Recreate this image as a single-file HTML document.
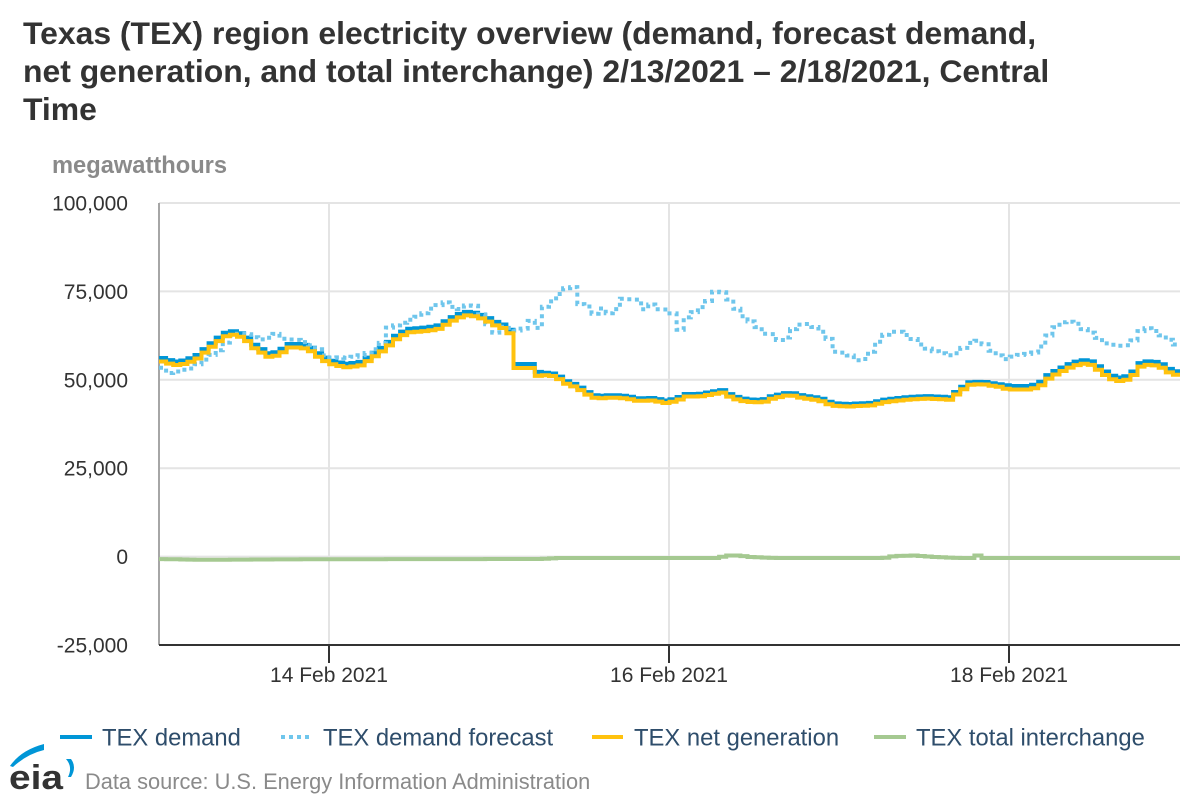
<!DOCTYPE html>
<html>
<head>
<meta charset="utf-8">
<style>
  html,body{margin:0;padding:0;background:#fff;}
  body{width:1200px;height:800px;overflow:hidden;}
  svg{display:block;}
  text{font-family:"Liberation Sans",Arial,sans-serif;}
</style>
</head>
<body>
<svg id="chart" width="1200" height="800" viewBox="0 0 1200 800" xmlns="http://www.w3.org/2000/svg">
  <rect x="0" y="0" width="1200" height="800" fill="#ffffff"/>
  <!-- Title -->
  <text x="23" y="44" font-size="31.9" font-weight="bold" fill="#333333">Texas (TEX) region electricity overview (demand, forecast demand,</text>
  <text x="23" y="82" font-size="31.9" font-weight="bold" fill="#333333">net generation, and total interchange) 2/13/2021 – 2/18/2021, Central</text>
  <text x="23" y="120" font-size="31.9" font-weight="bold" fill="#333333">Time</text>

  <!-- Axis title -->
  <text x="52" y="173" font-size="23.7" font-weight="bold" fill="#8a8a8a">megawatthours</text>

  <!-- Grid -->
  <g stroke="#e4e4e4" stroke-width="2">
    <line x1="159" y1="203" x2="1180" y2="203"/>
    <line x1="159" y1="291.4" x2="1180" y2="291.4"/>
    <line x1="159" y1="379.8" x2="1180" y2="379.8"/>
    <line x1="159" y1="468.2" x2="1180" y2="468.2"/>
    <line x1="159" y1="556.6" x2="1180" y2="556.6"/>
    <line x1="329" y1="203" x2="329" y2="645"/>
    <line x1="669" y1="203" x2="669" y2="645"/>
    <line x1="1009" y1="203" x2="1009" y2="645"/>
  </g>

  <!-- Y axis line -->
  <line x1="159" y1="203" x2="159" y2="645" stroke="#a6a6a6" stroke-width="2"/>

  <!-- Y labels -->
  <g font-size="21" fill="#333333" text-anchor="end">
    <text x="128" y="210.5">100,000</text>
    <text x="128" y="298.9">75,000</text>
    <text x="128" y="387.3">50,000</text>
    <text x="128" y="475.7">25,000</text>
    <text x="128" y="564.1">0</text>
    <text x="128" y="652.5">-25,000</text>
  </g>

  <!-- Series -->
  <path id="sDemand" fill="none" stroke="#0096d7" stroke-width="4"/>
  <path id="sForecast" fill="none" stroke="#6fc6ec" stroke-width="4" stroke-dasharray="4,4"/>
  <path id="sGen" fill="none" stroke="#ffc20e" stroke-width="4"/>
  <path id="sInter" fill="none" stroke="#a5c991" stroke-width="4"/>

  <!-- X axis -->
  <line x1="159" y1="645" x2="1180" y2="645" stroke="#333333" stroke-width="2"/>
  <g stroke="#333333" stroke-width="2">
    <line x1="329" y1="645" x2="329" y2="663"/>
    <line x1="669" y1="645" x2="669" y2="663"/>
    <line x1="1009" y1="645" x2="1009" y2="663"/>
  </g>
  <g font-size="21" fill="#333333" text-anchor="middle">
    <text x="329" y="682">14 Feb 2021</text>
    <text x="669" y="682">16 Feb 2021</text>
    <text x="1009" y="682">18 Feb 2021</text>
  </g>

  <!-- Legend -->
  <g font-size="23.8" fill="#2e4d6b">
    <line x1="60" y1="737" x2="92" y2="737" stroke="#0096d7" stroke-width="4"/>
    <text x="102" y="745.5">TEX demand</text>
    <line x1="281" y1="737" x2="313" y2="737" stroke="#6fc6ec" stroke-width="4" stroke-dasharray="4,4"/>
    <text x="323" y="745.5">TEX demand forecast</text>
    <line x1="592" y1="737" x2="623" y2="737" stroke="#ffc20e" stroke-width="4"/>
    <text x="634" y="745.5">TEX net generation</text>
    <line x1="874" y1="737" x2="906" y2="737" stroke="#a5c991" stroke-width="4"/>
    <text x="916" y="745.5">TEX total interchange</text>
  </g>

  <!-- EIA logo -->
  <path d="M10 766 Q21 750 44 744 L44 750 Q27 754 13 767 Z" fill="#0096d7"/>
  <path d="M66 759 Q73 767 68 777 L71 777 Q77 767 71 759 Z" fill="#0096d7"/>
  <text x="9" y="789" font-size="34" font-weight="bold" fill="#333333" textLength="54" lengthAdjust="spacingAndGlyphs">eia</text>
  <text x="85" y="789" font-size="21.8" fill="#8a8a8a">Data source: U.S. Energy Information Administration</text>
</svg>

<script>
(function(){
  var demand=[[159,357],[175,361.7],[187,360],[198,355],[210,345],[225,333],[235,331],[245,335],[255,345],[270,354],[280,351],[290,344],[302,344],[312,348],[322,356],[335,361.7],[348,364],[362,361.7],[375,353],[385,346],[395,336.7],[408,329],[422,328],[438,326],[452,317.7],[465,311.7],[475,312.7],[485,316],[495,321.7],[500,323],[507,326.7],[512,331.7],[513,364],[535,364],[537,371.7],[557,374],[563,380],[577,385],[587,391.7],[597,396],[613,395],[627,396],[637,398.3],[653,398],[667,400.7],[677,398.3],[687,394],[700,394],[713,391.7],[723,390],[733,396],[747,399.3],[763,400],[773,396],[790,392.3],[803,395.7],[820,398],[833,403.3],[850,404],[860,403.3],[870,403.3],[887,399.3],[907,397.3],[927,396],[940,396.7],[950,397.3],[960,389.3],[970,382.3],[983,381.7],[997,384],[1013,386],[1030,386],[1040,383.3],[1050,374],[1060,369],[1073,362.7],[1083,360],[1093,361.7],[1103,370],[1113,376],[1123,378.3],[1133,372.7],[1140,363.3],[1150,361],[1160,362.7],[1170,369.3],[1180,372.3]];
  var forecast=[[159,365],[170,373.3],[182,370],[192,368.3],[202,361.7],[215,353],[223,348],[230,336.7],[242,333.3],[252,335],[258,340],[268,338.3],[277,333.3],[280,338.3],[288,339.3],[298,340],[308,343.3],[315,347.3],[322,351],[328,358.3],[338,357.3],[348,358],[362,355],[372,351.7],[382,344],[387,328.3],[398,325],[412,319.3],[422,315],[435,306.7],[448,301.7],[457,310.7],[465,306.7],[472,303.3],[478,309.3],[488,323.3],[495,333.3],[502,326.7],[513,328.3],[518,331],[525,328.3],[532,320],[538,329.3],[542,312.3],[547,304.3],[552,301.7],[557,298.3],[563,288.3],[572,288.3],[577,285],[578,305],[585,302.7],[592,311.7],[597,315],[600,310],[607,305],[610,316],[615,311.7],[620,301.7],[625,297.3],[630,299.3],[637,298.3],[642,309.3],[647,309.3],[652,304.3],[660,310],[668,309.3],[673,313.3],[677,321],[680,330],[685,319.3],[690,315],[700,308.3],[708,301.7],[715,291.7],[722,291.7],[727,295.7],[733,304],[740,312.7],[748,320],[755,323.3],[762,331.7],[767,335],[773,334],[778,339.3],[783,341.7],[790,333.3],[797,325],[807,324],[812,324],[817,329.3],[822,331.7],[827,335],[830,340.7],[833,351.7],[840,352],[847,353.3],[853,357.3],[858,360.7],[867,358.3],[875,346.7],[882,337.3],[890,331.7],[900,331.7],[907,335],[912,336.7],[918,343.3],[925,346],[930,350],[937,351.7],[943,353.3],[947,356.7],[953,353.3],[960,353.3],[967,343.3],[973,342.7],[980,340],[987,346],[995,353.3],[1003,357.3],[1008,360],[1013,356.7],[1020,355],[1027,354],[1033,353.3],[1040,350],[1045,340],[1052,331.7],[1060,322.7],[1067,321.7],[1073,321.7],[1080,325],[1087,331.7],[1095,333.3],[1102,342.7],[1110,344.3],[1120,345.7],[1130,345],[1137,336.7],[1143,328.3],[1152,328.3],[1158,333.3],[1165,336.7],[1172,341.7],[1180,346.7]];
  var inter=[[159,559],[200,559.8],[330,559.2],[540,559],[560,558],[720,558],[725,555.5],[740,555.5],[750,557],[775,558],[885,558],[895,556],[915,555.5],[935,557],[960,558],[973,558],[978,555.5],[985,558],[1180,558]];
  function interp(p,x){
    if(x<=p[0][0]) return p[0][1];
    for(var i=1;i<p.length;i++){
      if(x<=p[i][0]){
        var a=p[i-1],b=p[i];
        var t=(b[0]===a[0])?1:(x-a[0])/(b[0]-a[0]);
        return a[1]+t*(b[1]-a[1]);
      }
    }
    return p[p.length-1][1];
  }
  var N=144, x0=159, x1=1180, dx=(x1-x0)/N;
  function stepPath(p,off){
    var d='';
    for(var h=0;h<N;h++){
      var xa=x0+h*dx, xb=xa+dx, xm=xa+dx/2;
      var y=interp(p,xm)+(off?off(xm):0);
      y=Math.round(y*10)/10;
      if(h===0){ d+='M'+xa.toFixed(1)+' '+y; }
      else { d+=' V'+y; }
      d+=' H'+xb.toFixed(1);
    }
    return d;
  }
  function genOff(x){
    if(x<513) return 3.5;
    if(x<545) return 4;
    if(x<1000) return 2.5;
    return 3.5;
  }
  document.getElementById('sDemand').setAttribute('d',stepPath(demand));
  document.getElementById('sForecast').setAttribute('d',stepPath(forecast));
  document.getElementById('sGen').setAttribute('d',stepPath(demand,genOff));
  document.getElementById('sInter').setAttribute('d',stepPath(inter));
})();
</script>
</body>
</html>
